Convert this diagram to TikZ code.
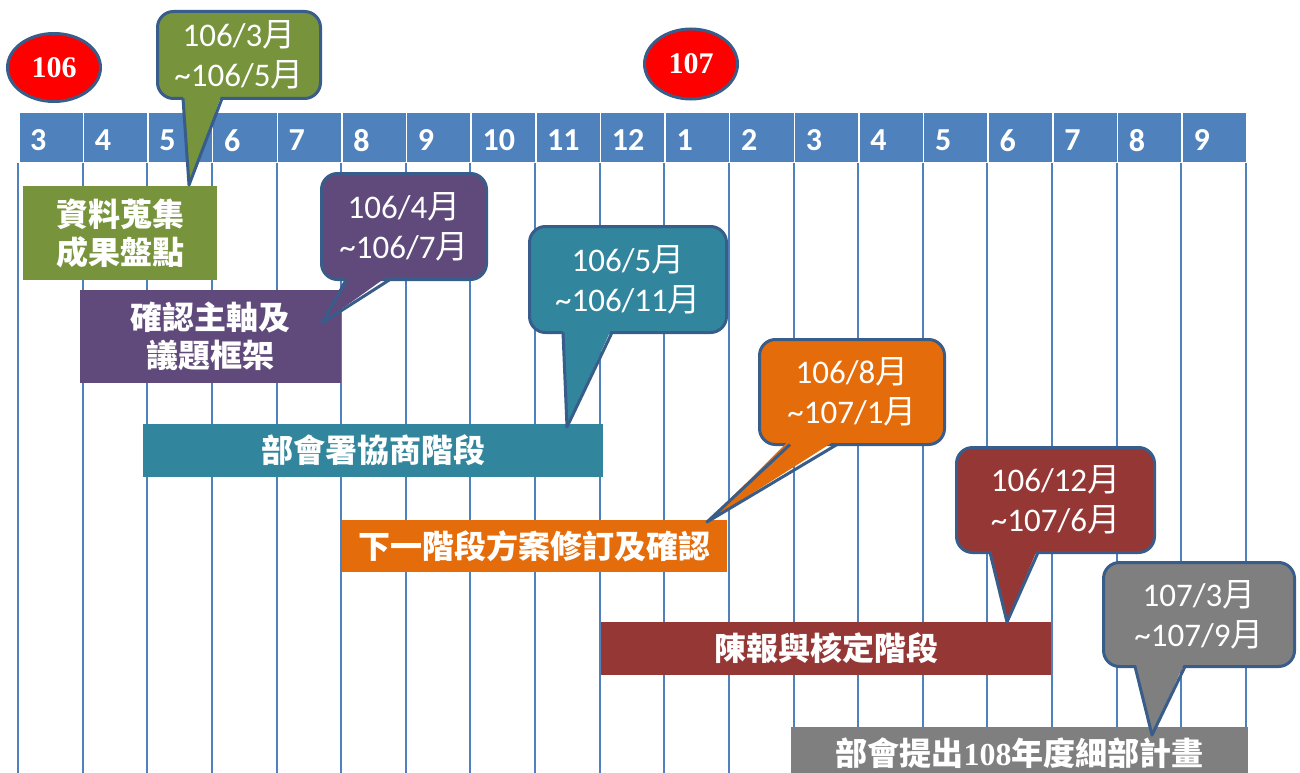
\documentclass[tikz,border=0pt]{standalone}
\usepackage{fontspec}
\usetikzlibrary{shapes.geometric}
\setmainfont{Carlito}
\newfontfamily\cjk{Noto Sans CJK TC}
\newfontfamily\tnr{Liberation Serif}
\definecolor{hdr}{HTML}{4F81BD}
\definecolor{cgreen}{HTML}{77933C}
\definecolor{cpurple}{HTML}{604A7B}
\definecolor{cteal}{HTML}{31859C}
\definecolor{corange}{HTML}{E46C0A}
\definecolor{cred}{HTML}{953735}
\definecolor{cgray}{HTML}{7F7F7F}
\definecolor{edge}{HTML}{385D8A}
\newcommand\calltail[5]{%
  \fill[#1] (#2,#4-5) -- (#5) -- (#3,#4-5) -- cycle;
  \draw[tailline] (#2,#4) -- (#5) -- (#3,#4);
}
\newcommand\yue{{\cjk 月}}
\begin{document}
\begin{tikzpicture}[x=1pt,y=-1pt,
  cell/.style={fill=hdr, draw=white, line width=1.5pt, minimum width=64.63pt, minimum height=50pt, inner sep=0pt, anchor=north west},
  hlabel/.style={text=white, font=\bfseries\fontsize{32}{32}\selectfont, inner sep=0pt, anchor=west},
  gridline/.style={draw=hdr, line width=2pt},
  yearmark/.style={ellipse, fill=red, draw=edge, line width=3pt, inner sep=0pt, text=white, font=\tnr\bfseries\fontsize{30}{30}\selectfont},
  bar/.style={fill=#1, draw=none, inner sep=0pt, text=white, align=center, font=\cjk\bfseries\fontsize{32}{38}\selectfont},
  bubble/.style={fill=#1, draw=edge, line width=3pt, rounded corners=16pt, inner sep=0pt, text=white, align=center, font=\fontsize{33}{40}\selectfont},
  tailline/.style={draw=edge, line width=3pt, line join=round},
]
\useasboundingbox (0,0) rectangle (1300,773);
% header
\foreach \m [count=\i from 0] in {3,4,5,6,7,8,9,10,11,12,1,2,3,4,5,6,7,8,9} {
  \node[cell] (h\i) at ({18+64.63*\i},112) {};
  \node[hlabel] (hl\i) at ([xshift=12pt,yshift=-2.5pt]h\i.west) {\m};
}
% grid lines
\foreach \i in {0,...,19} {
  \draw[gridline] ({18+64.63*\i},163) -- ({18+64.63*\i},773);
}
% bars
\node[bar=cgreen, minimum width=194pt, minimum height=94pt] (b1) at (120,233) {資料蒐集\\成果盤點};
\node[bar=cpurple, minimum width=261pt, minimum height=93pt] (b2) at (210.5,336.5) {確認主軸及\\議題框架};
\node[bar=cteal, minimum width=460pt, minimum height=53pt] (b3) at (373,450.5) {部會署協商階段};
\node[bar=corange, minimum width=385pt, minimum height=52pt] (b4) at (534.5,546) {下一階段方案修訂及確認};
\node[bar=cred, minimum width=450pt, minimum height=53pt] (b5) at (826,648.5) {陳報與核定階段};
\node[bar=cgray, minimum width=457pt, minimum height=53pt] (b6) at (1019.5,753.5) {部會提出{\tnr\bfseries 108}年度細部計畫};
% year marks
\node[yearmark, minimum width=93pt, minimum height=68pt] (y106) at (54,67.5) {106};
\node[yearmark, minimum width=93pt, minimum height=70pt] (y107) at (691,64) {107};
% tips
\coordinate (t1) at (189,185);
\coordinate (t2) at (322,323);
\coordinate (t3) at (567,427);
\coordinate (t4) at (707,522);
\coordinate (t5) at (1007,622);
\coordinate (t6) at (1152,735);
% callouts
\node[bubble=cgreen, minimum width=163pt, minimum height=87pt] (c1) at (239,55) {106/3\yue\\\textasciitilde106/5\yue};
\calltail{cgreen}{183}{222}{98.5}{t1}
\node[bubble=cpurple, minimum width=165pt, minimum height=106pt] (c2) at (404,226.5) {106/4\yue\\\textasciitilde106/7\yue};
\calltail{cpurple}{347}{390}{279.5}{t2}
\node[bubble=cteal, minimum width=197pt, minimum height=106pt] (c3) at (628,279.5) {106/5\yue\\\textasciitilde106/11\yue};
\calltail{cteal}{563}{612}{332.5}{t3}
\node[bubble=corange, minimum width=185pt, minimum height=105pt] (c4) at (852,392) {106/8\yue\\\textasciitilde107/1\yue};
\calltail{corange}{790}{837}{444.5}{t4}
\node[bubble=cred, minimum width=198pt, minimum height=105pt] (c5) at (1055.5,500) {106/12\yue\\\textasciitilde107/6\yue};
\calltail{cred}{990}{1038}{552.5}{t5}
\node[bubble=cgray, minimum width=191pt, minimum height=104pt] (c6) at (1199,614.5) {107/3\yue\\\textasciitilde107/9\yue};
\calltail{cgray}{1135}{1185}{666.5}{t6}
\end{tikzpicture}
\end{document}
